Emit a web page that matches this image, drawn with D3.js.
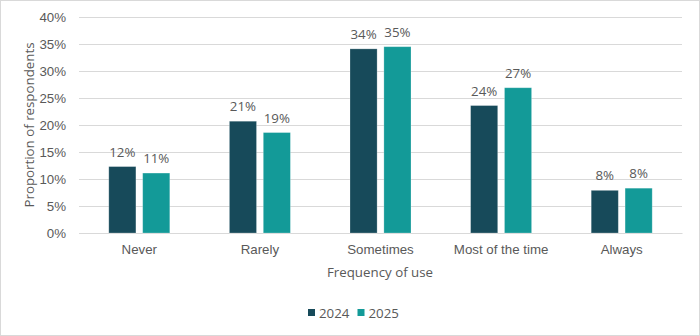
<!DOCTYPE html>
<html><head><meta charset="utf-8">
<script src="https://cdn.jsdelivr.net/npm/d3@7"></script>
<style>body{margin:0;background:#fff}svg{display:block;font-family:"Open Sans",sans-serif}</style>
</head><body><svg id="c" width="700" height="336"></svg>
<script>
const categories = ["Never","Rarely","Sometimes","Most of the time","Always"];
const seriesNames = ["2024","2025"];
const values2024 = [12.3, 20.7, 34.1, 23.6, 7.9];
const values2025 = [11.1, 18.6, 34.5, 26.9, 8.3];
const labels2024 = ["12%","21%","34%","24%","8%"];
const labels2025 = ["11%","19%","35%","27%","8%"];
const yTicks = [0,5,10,15,20,25,30,35,40];
const colors = ["#174a5a","#139a98"];

const svg = d3.select("#c");
svg.append("rect").attr("x",0.5).attr("y",0.5).attr("width",699).attr("height",335)
  .attr("fill","#fff").attr("stroke","#d9d9d9");

const m = {l:79, r:682, t:17, b:233};
const fs = "13.3px";
const x = d3.scaleBand().domain(categories).range([m.l,m.r]);
const y = d3.scaleLinear().domain([0,40]).range([m.b,m.t]);
const xs = d3.scaleBand().domain(seriesNames).range([0,61]).paddingInner(0.2);

const txt = "#595959";
const yAxis = svg.append("g").attr("transform",`translate(${m.l},0)`)
  .call(d3.axisLeft(y).tickValues(yTicks).tickFormat(d=>d+"%").tickSize(-(m.r-m.l)).tickPadding(13));
yAxis.select(".domain").remove();
yAxis.selectAll("line").attr("stroke","#d9d9d9");
yAxis.selectAll("text").attr("fill",txt).style("font-size",fs);

const xAxis = svg.append("g").attr("transform",`translate(0,${m.b})`)
  .call(d3.axisBottom(x).tickSize(0).tickPadding(12));
xAxis.select(".domain").attr("stroke","#d9d9d9");
xAxis.selectAll("text").attr("fill",txt).style("font-size",fs);

const data = categories.map((c,i)=>({c, vals:[
  {s:"2024", v:values2024[i], l:labels2024[i], col:colors[0]},
  {s:"2025", v:values2025[i], l:labels2025[i], col:colors[1]}]}));

const g = svg.selectAll(".grp").data(data).join("g")
  .attr("transform",d=>`translate(${x(d.c)+x.bandwidth()/2-30.5},0)`);
g.selectAll("rect").data(d=>d.vals).join("rect")
  .attr("x",d=>xs(d.s)).attr("width",xs.bandwidth())
  .attr("y",d=>y(d.v)).attr("height",d=>y(0)-y(d.v))
  .attr("fill",d=>d.col).attr("stroke","#ffffff").attr("stroke-opacity",0.3).attr("stroke-width",0.8);
g.selectAll("text").data(d=>d.vals).join("text")
  .attr("x",d=>xs(d.s)+xs.bandwidth()/2).attr("y",d=>y(d.v)-10)
  .attr("text-anchor","middle").attr("fill",txt).style("font-size",fs).text(d=>d.l);

svg.append("text").attr("x",380).attr("y",277).attr("text-anchor","middle")
  .attr("fill",txt).style("font-size",fs).text("Frequency of use");
svg.append("text").attr("transform","translate(34,125) rotate(-90)").attr("text-anchor","middle")
  .attr("fill",txt).style("font-size",fs).text("Proportion of respondents");

const leg = svg.append("g").attr("transform","translate(308,313)");
seriesNames.forEach((s,i)=>{
  const lg = leg.append("g").attr("transform",`translate(${i*49.5},0)`);
  lg.append("rect").attr("x",0).attr("y",-4).attr("width",7).attr("height",7).attr("fill",colors[i]);
  lg.append("text").attr("x",11).attr("y",4.5).attr("fill",txt).style("font-size",fs).text(s);
});
</script></body></html>
